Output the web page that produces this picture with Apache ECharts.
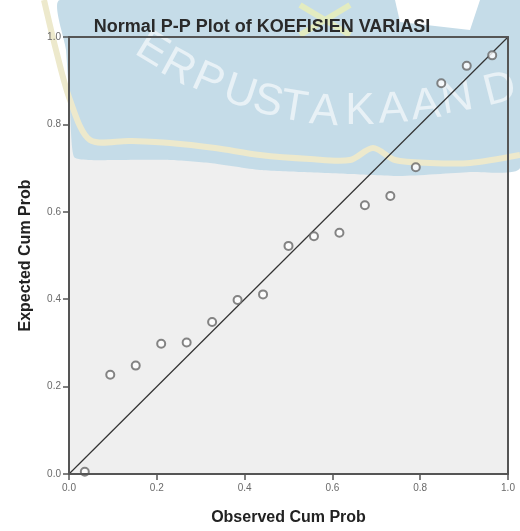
<!DOCTYPE html>
<html><head><meta charset="utf-8">
<script src="https://cdn.jsdelivr.net/npm/echarts@6/dist/echarts.min.js"></script>
<style>html,body{margin:0;padding:0;background:#fff;overflow:hidden}#c{width:520px;height:531px}</style>
</head><body><div id="c"></div>
<script>
const chartTitle = 'Normal P-P Plot of KOEFISIEN VARIASI';
const xTitle = 'Observed Cum Prob';
const yTitle = 'Expected Cum Prob';
const observed = [0.036, 0.094, 0.152, 0.210, 0.268, 0.326, 0.384, 0.442, 0.500, 0.558, 0.616, 0.674, 0.732, 0.790, 0.848, 0.906, 0.964];
const expected = [0.005, 0.227, 0.248, 0.298, 0.301, 0.348, 0.398, 0.411, 0.522, 0.544, 0.552, 0.615, 0.636, 0.702, 0.894, 0.934, 0.958];
const refLine = [[0, 0], [1, 1]];
const wmLetters = ['E','R','P','U','S','T','A','K','A','A','N','D'];

const chart = echarts.init(document.getElementById('c'), null, {renderer: 'canvas', width: 520, height: 531});
const points = observed.map((v, i) => [v, expected[i]]);
const font = '"Liberation Sans", Arial, sans-serif';

// watermark decoration (page pixels)
const wmPos = [[152,50,-0.55],[178,68,-0.5],[208,81,-0.42],[240,93,-0.32],[268,102,-0.24],[294,108,-0.16],[324,112,-0.08],[360,112,0],[393,110,0.05],[426,106,0.1],[457,99,0.17],[500,90,0.25]];
const graphics = [
  {type:'polygon', z:1, shape:{smooth:0.2, points:[[60,0],[520,0],[520,168],[470,172],[400,176],[350,174],[300,172],[260,170],[210,163],[170,160],[120,160],[90,160],[74,157],[70,110],[66,50]]}, style:{fill:'#c5dce8'}},
  {type:'polygon', z:1, shape:{points:[[395,0],[480,0],[470,30],[400,22]]}, style:{fill:'#ffffff'}},
  {type:'polyline', z:1, shape:{smooth:0.3, points:[[44,0],[56,50],[70,100],[90,140],[130,141],[170,143],[215,148],[260,155],[310,159],[350,160],[373,148],[395,160],[430,163],[470,163],[520,155]]}, style:{fill:null, stroke:'#ede9cc', lineWidth:6}},
  {type:'line', z:1, shape:{x1:300,y1:5,x2:350,y2:35}, style:{stroke:'#e3ecc0', lineWidth:6}},
  {type:'line', z:1, shape:{x1:300,y1:35,x2:350,y2:5}, style:{stroke:'#e3ecc0', lineWidth:6}}
];
wmLetters.forEach((ch, i) => {
  graphics.push({type:'text', z:1, x: wmPos[i][0], y: wmPos[i][1], rotation: wmPos[i][2],
    style:{text: ch, fill:'rgba(255,255,255,0.6)', font:'44px ' + font, textAlign:'center', textVerticalAlign:'middle'}});
});

chart.setOption({
  animation: false,
  title: {text: chartTitle, left: 257, top: 13, textAlign: 'center',
    textStyle: {fontFamily: font, fontSize: 18, fontWeight: 'bold', color: '#2a2a2a'}},
  grid: {left: 69, top: 37, width: 439, height: 440, show: true, backgroundColor: '#efefef', borderWidth: 0, z: 0},
  graphic: graphics,
  xAxis: [
    {type: 'value', min: 0, max: 1, interval: 0.2, z: 6,
     name: xTitle, nameLocation: 'middle', nameGap: 36,
     nameTextStyle: {fontFamily: font, fontSize: 16, fontWeight: 'bold', color: '#222'},
     axisLine: {show: true, onZero: false, lineStyle: {color: '#555', width: 2}},
     axisTick: {show: true, length: 6, lineStyle: {color: '#555', width: 1.5}},
     axisLabel: {fontFamily: font, fontSize: 10, color: '#6a6a6a', margin: 9, formatter: v => v.toFixed(1)},
     splitLine: {show: false}},
    {type: 'value', min: 0, max: 1, position: 'top', z: 6,
     axisLine: {show: true, onZero: false, lineStyle: {color: '#555', width: 2}},
     axisTick: {show: false}, axisLabel: {show: false}, splitLine: {show: false}}
  ],
  yAxis: [
    {type: 'value', min: 0, max: 1, interval: 0.2, z: 6,
     name: yTitle, nameLocation: 'middle', nameGap: 35, nameRotate: 90,
     nameTextStyle: {fontFamily: font, fontSize: 16, fontWeight: 'bold', color: '#222'},
     axisLine: {show: true, onZero: false, lineStyle: {color: '#555', width: 2}},
     axisTick: {show: true, length: 6, lineStyle: {color: '#555', width: 1.5}},
     axisLabel: {fontFamily: font, fontSize: 10, color: '#6a6a6a', margin: 8, formatter: v => v.toFixed(1)},
     splitLine: {show: false}},
    {type: 'value', min: 0, max: 1, position: 'right', z: 6,
     axisLine: {show: true, onZero: false, lineStyle: {color: '#555', width: 2}},
     axisTick: {show: false}, axisLabel: {show: false}, splitLine: {show: false}}
  ],
  series: [
    {type: 'line', data: refLine, z: 5, symbol: 'none', silent: true,
     lineStyle: {color: '#333', width: 1.2}},
    {type: 'scatter', data: points, z: 5, symbol: 'emptyCircle', symbolSize: 8,
     itemStyle: {color: '#666', borderColor: '#666', borderWidth: 1.5}}
  ]
});
</script></body></html>
